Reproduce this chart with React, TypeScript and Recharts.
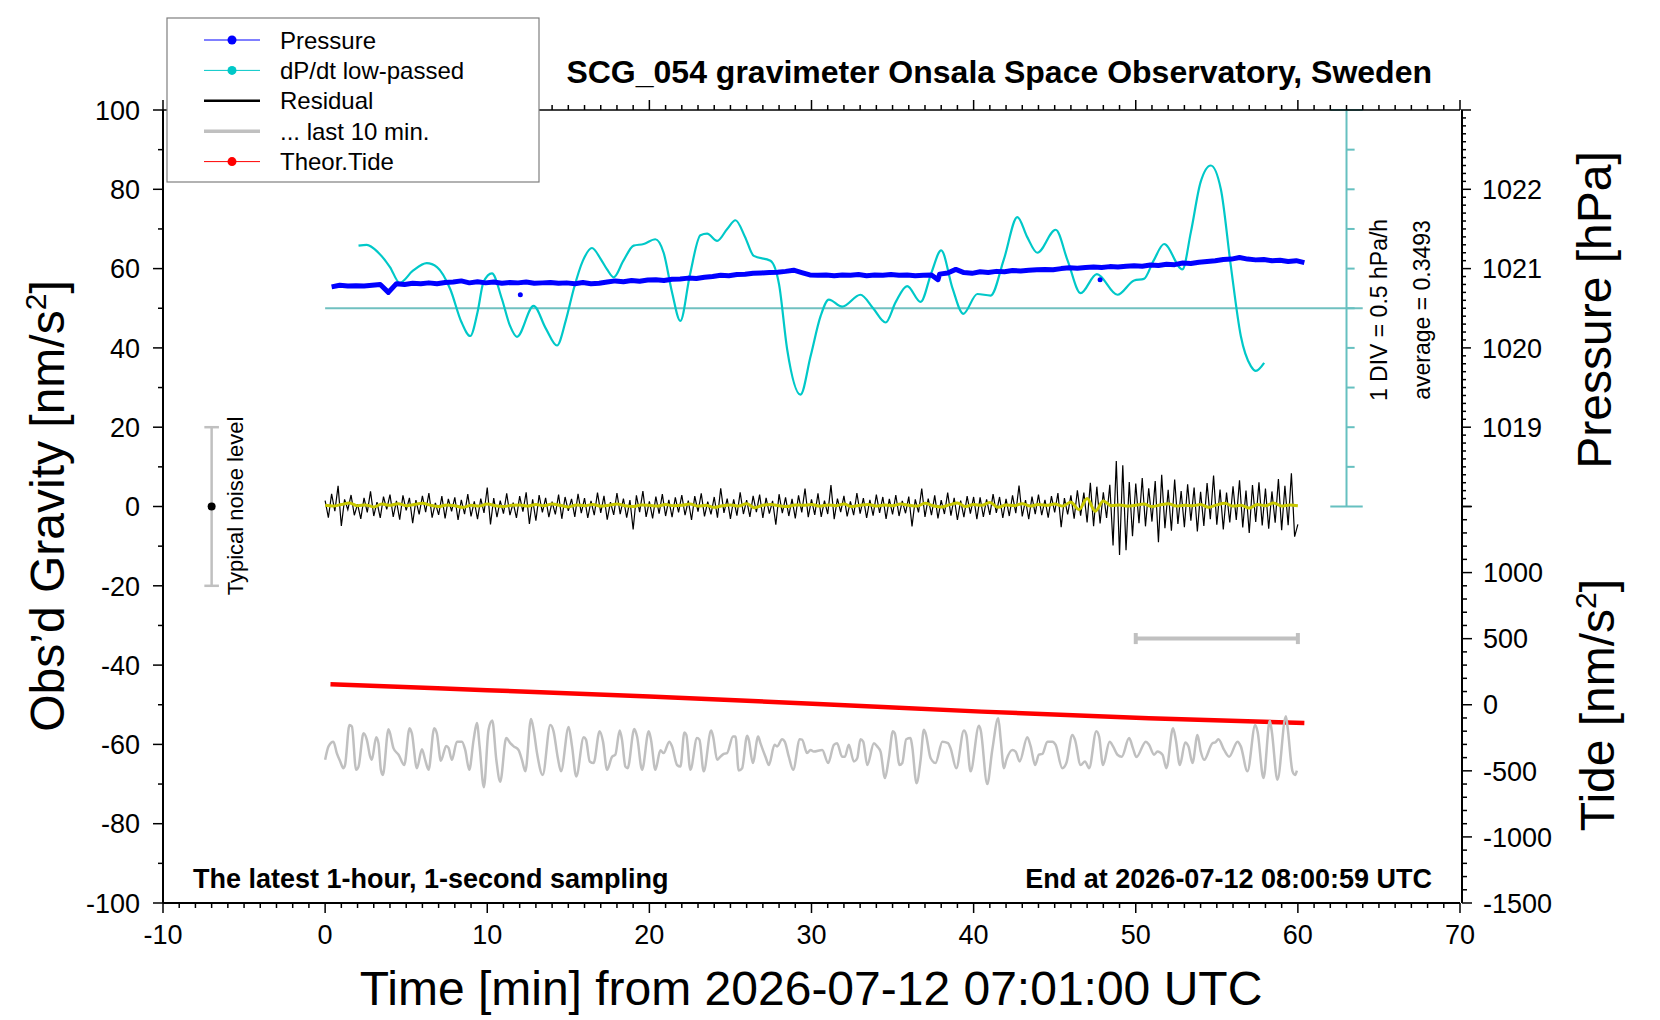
import React from "react";
import { ComposedChart, Line, XAxis, YAxis, ReferenceLine, ReferenceDot } from "recharts";

const FONT = '"Liberation Sans", Arial, Helvetica, sans-serif';
const W = 1660;
const H = 1020;

// ---- text
const STATION = "SCG_054 gravimeter Onsala Space Observatory, Sweden";
const START_UTC = "2026-07-12 07:01:00 UTC";
const END_UTC = "2026-07-12 08:00:59 UTC";
const SAMPLING_NOTE = "The latest 1-hour, 1-second sampling";

// ---- axes
const TIME_LABELS = [-10, 0, 10, 20, 30, 40, 50, 60, 70];
const GRAVITY_LABELS = [-100, -80, -60, -40, -20, 0, 20, 40, 60, 80, 100];
const PRESSURE_LABELS = [1019, 1020, 1021, 1022];
const TIDE_LABELS = [-1500, -1000, -500, 0, 500, 1000];
const PRESSURE_RANGE = [1018, 1023];
const TIDE_RANGE = [-1500, 1500];

// dP/dt scale: 1 division = 0.5 hPa/h
const DPDT_DIV = 0.5;
const DPDT_AVERAGE = 0.3493;

// ---- series
// pressure [min, hPa]
const PRESSURE: [number, number][] = [
  [0.4, 1020.77], [0.9, 1020.79], [1.4, 1020.78], [1.9, 1020.785], [2.4, 1020.78], [2.9, 1020.79], [3.4, 1020.8], [3.9, 1020.7], [4.4, 1020.81], [4.9, 1020.8],
  [5.4, 1020.815], [5.9, 1020.81], [6.4, 1020.82], [6.9, 1020.81], [7.4, 1020.825], [7.9, 1020.83], [8.4, 1020.845], [8.9, 1020.82], [9.4, 1020.835], [9.9, 1020.82],
  [10.4, 1020.83], [10.9, 1020.815], [11.4, 1020.825], [11.9, 1020.82], [12.4, 1020.83], [12.9, 1020.815], [13.4, 1020.82], [13.9, 1020.825], [14.4, 1020.815], [14.9, 1020.82],
  [15.4, 1020.81], [15.9, 1020.825], [16.4, 1020.81], [16.9, 1020.815], [17.4, 1020.83], [17.9, 1020.845], [18.4, 1020.835], [18.9, 1020.85], [19.4, 1020.84], [19.9, 1020.855],
  [20.4, 1020.86], [20.9, 1020.85], [21.4, 1020.865], [21.9, 1020.87], [22.4, 1020.88], [22.9, 1020.875], [23.4, 1020.89], [23.9, 1020.9], [24.4, 1020.915], [24.9, 1020.91],
  [25.4, 1020.925], [25.9, 1020.93], [26.4, 1020.94], [26.9, 1020.945], [27.4, 1020.95], [27.9, 1020.955], [28.4, 1020.965], [28.9, 1020.98], [29.4, 1020.95], [29.9, 1020.92],
  [30.4, 1020.915], [30.9, 1020.92], [31.4, 1020.91], [31.9, 1020.92], [32.4, 1020.915], [32.9, 1020.925], [33.4, 1020.91], [33.9, 1020.92], [34.4, 1020.915], [34.9, 1020.925],
  [35.4, 1020.915], [35.9, 1020.92], [36.4, 1020.91], [36.9, 1020.915], [37.4, 1020.92], [37.8, 1020.86], [37.9, 1020.93], [38.4, 1020.945], [38.9, 1020.99], [39.4, 1020.95], [39.9, 1020.94],
  [40.4, 1020.96], [40.9, 1020.95], [41.4, 1020.965], [41.9, 1020.96], [42.4, 1020.975], [42.9, 1020.97], [43.4, 1020.98], [43.9, 1020.985], [44.4, 1020.99], [44.9, 1020.985],
  [45.4, 1021.0], [45.9, 1021.01], [46.4, 1021.005], [46.9, 1021.015], [47.4, 1021.02], [47.9, 1021.015], [48.4, 1021.025], [48.9, 1021.02], [49.4, 1021.03], [49.9, 1021.035],
  [50.4, 1021.03], [50.9, 1021.045], [51.4, 1021.04], [51.9, 1021.055], [52.4, 1021.05], [52.9, 1021.07], [53.4, 1021.065], [53.9, 1021.08], [54.4, 1021.09], [54.9, 1021.1],
  [55.4, 1021.115], [55.9, 1021.12], [56.4, 1021.14], [56.9, 1021.12], [57.4, 1021.11], [57.9, 1021.115], [58.4, 1021.1], [58.9, 1021.105], [59.4, 1021.09], [59.9, 1021.1],
  [60.4, 1021.075],
];
const PRESSURE_SPIKES: [number, number][] = [[12.04, 1020.67], [47.8, 1020.86]];

// low-passed dP/dt [min, hPa/h]
const DPDT: [number, number][] = [
  [2.06, 0.79], [2.57, 0.8], [3.29, 0.7], [4.0, 0.52], [4.6, 0.32], [5.4, 0.47], [6.27, 0.57], [6.9, 0.52], [7.72, 0.24], [8.4, -0.17],
  [8.95, -0.35], [9.4, -0.05], [9.77, 0.33], [10.29, 0.44], [10.9, 0.12], [11.4, -0.22], [11.83, -0.36], [12.86, 0.03], [13.6, -0.25], [14.3, -0.47],
  [14.85, -0.15], [15.33, 0.24], [15.9, 0.6], [16.46, 0.76], [17.0, 0.62], [17.39, 0.49], [17.8, 0.39], [18.4, 0.6], [19.03, 0.79], [19.65, 0.81],
  [20.37, 0.87], [20.88, 0.7], [21.4, 0.2], [21.91, -0.16], [22.5, 0.42], [23.15, 0.92], [23.56, 0.94], [24.18, 0.85], [24.8, 1.0], [25.31, 1.11],
  [25.9, 0.9], [26.44, 0.66], [27.47, 0.6], [28.0, 0.3], [28.5, -0.52], [29.32, -1.09], [29.95, -0.6], [30.56, -0.1], [31.07, 0.11], [31.89, 0.02],
  [33.02, 0.17], [33.8, 0.0], [34.57, -0.18], [35.2, 0.08], [35.9, 0.28], [36.73, 0.08], [37.4, 0.45], [38.0, 0.73], [38.7, 0.25], [39.36, -0.07],
  [40.23, 0.18], [41.05, 0.16], [41.87, 0.62], [42.7, 1.15], [43.3, 0.9], [43.93, 0.7], [45.06, 0.99], [45.8, 0.6], [46.6, 0.19], [47.6, 0.43],
  [48.87, 0.17], [49.9, 0.35], [50.5, 0.37], [51.1, 0.6], [51.75, 0.81], [52.88, 0.49], [53.4, 0.96], [54.0, 1.59], [54.63, 1.8], [55.25, 1.5],
  [55.86, 0.54], [56.48, -0.35], [57.1, -0.73], [57.41, -0.79], [57.92, -0.69],
];

// residual [nm/s2], one value every 0.2 min from t = 0
const RESIDUAL_STEP = 0.2;
const RESIDUAL = [
  1.5, -2.8, 3.2, -1.2, 5.2, -4.9, 1.8, -0.8, 2.9, -2.2,
  0.6, -3.1, 2.2, -1.5, 3.8, -2.4, 1.1, -2.9, 2.5, -0.7,
  3.0, -2.6, 1.4, -3.3, 2.8, -1.0, 2.2, -4.2, 1.6, -2.0,
  2.7, -1.4, 3.4, -2.8, 0.9, -2.1, 2.6, -3.0, 1.9, -1.2,
  2.3, -3.4, 1.7, -1.9, 3.1, -2.5, 1.3, -3.2, 2.0, -1.6,
  4.8, -4.5, 2.1, -2.7, 1.5, -1.8, 3.3, -2.2, 1.0, -2.9,
  2.6, -1.3, 3.6, -4.4, 1.8, -3.6, 2.9, -1.5, 2.2, -2.7,
  1.2, -2.0, 3.0, -3.1, 2.4, -1.1, 1.9, -2.6, 3.2, -1.7,
  2.1, -2.9, 1.4, -2.2, 3.5, -1.6, 2.7, -3.3, 1.1, -2.1,
  3.4, -1.9, 2.0, -2.8, 1.6, -5.8, 2.8, -1.4, 3.9, -2.6,
  1.3, -3.0, 2.5, -1.8, 3.1, -2.4, 1.7, -2.7, 2.3, -1.5,
  2.9, -2.2, 1.5, -3.4, 2.6, -1.3, 3.3, -2.5, 1.2, -2.0,
  2.4, -2.8, 4.6, -1.6, 2.0, -3.1, 1.8, -2.3, 3.6, -1.9,
  1.6, -2.6, 2.7, -1.4, 3.0, -2.9, 2.2, -1.8, 1.4, -4.6,
  3.1, -1.7, 2.3, -2.4, 1.9, -3.0, 2.8, -1.5, 4.5, -2.7,
  1.8, -2.1, 3.3, -2.6, 1.5, -1.9, 5.4, -3.2, 2.0, -1.4,
  2.7, -2.5, 1.3, -2.2, 3.4, -1.8, 2.1, -2.9, 1.7, -2.3,
  3.0, -1.6, 2.4, -3.1, 1.9, -2.0, 2.9, -2.4, 1.4, -1.7,
  2.5, -5.0, 1.8, -1.5, 4.5, -2.6, 2.0, -2.2, 2.8, -3.0,
  1.6, -1.9, 3.5, -2.3, 2.2, -3.4, 1.5, -2.7, 2.6, -1.8,
  2.4, -3.2, 2.3, -2.6, 1.8, -2.1, 3.1, -1.6, 2.4, -2.9,
  1.9, -2.4, 2.8, -1.7, 5.3, -2.5, 1.6, -3.2, 2.5, -1.9,
  3.0, -2.2, 1.7, -2.8, 2.6, -1.5, 3.4, -5.2, 2.1, -2.0,
  2.8, -3.1, 4.1, -2.3, 3.5, -4.0, 6.0, -5.0, 5.0, -4.3,
  3.6, -2.9, 5.5, -9.8, 11.5, -12.2, 10.4, -11.0, 6.2, -7.5,
  5.8, -4.2, 7.2, -5.0, 4.6, -3.8, 6.4, -9.0, 8.0, -5.5,
  4.2, -6.1, 6.8, -4.4, 3.9, -5.2, 5.6, -3.6, 4.8, -6.3,
  3.7, -4.9, 5.9, -3.2, 7.8, -4.6, 4.3, -5.8, 3.5, -4.0,
  5.1, -3.4, 6.6, -5.3, 4.0, -6.7, 5.4, -3.9, 6.1, -4.8,
  4.5, -5.6, 3.8, -4.1, 6.9, -6.0, 5.2, -4.7, 8.4, -7.6,
  -4.5,
];

// smoothed residual, one value every 0.5 min from t = 0
const SMOOTH_STEP = 0.5;
const RESIDUAL_SMOOTH = [
  0.3, 0.1, 0.5, 0.9, 0.2, 0.4, -0.1, 0.6, 0.3, 0.7, 0.2, 0.5, 0.8, 0.3, 0.0, 0.4, 0.2, -0.2, 0.3, 0.1,
  0.6, 0.2, 0.0, 0.3, 0.4, 0.1, 0.5, 0.2, 0.6, 0.3, -0.1, 0.4, 0.2, 0.5, 0.1, 0.3, 0.6, 0.2, 0.0, 0.4,
  0.3, 0.1, 0.5, 0.2, 0.3, 0.6, 0.1, 0.3, -0.2, 0.2, 0.4, 0.1, 0.7, -0.3, 0.3, 0.5, 0.2, 0.0, 0.4, 0.3,
  0.5, 0.1, 0.4, 0.2, 0.6, 0.0, 0.3, 0.5, 0.1, 0.4, 0.2, 0.6, 0.3, 0.1, 0.8, 0.2, -0.1, 0.4, 0.9, 0.0,
  0.5, 0.3, 1.0, -0.2, 0.4, 0.2, 0.7, 0.1, 0.5, 0.3, 0.6, 0.1, 1.1, -0.8, 2.0, -1.2, 1.4, 0.2, 0.4, 0.1,
  0.3, 0.6, 0.0, 0.4, 0.7, 0.1, 0.3, 0.2, 0.5, -0.2, 0.4, 0.8, 0.1, 0.3, -0.4, 0.5, 0.2, 0.9, 0.1, 0.4,
  0.2,
];

// last 10 min of residual, stretched over the hour [min, nm/s2]
const LAST10: [number, number][] = [
  [0.0, -63.9], [0.21, -60.5], [0.51, -59.3], [0.72, -62.2], [0.93, -64.3], [1.13, -66.0], [1.23, -65.2], [1.5, -55.1], [1.65, -55.5], [1.91, -66.4],
  [2.06, -65.6], [2.37, -57.2], [2.57, -58.8], [2.78, -63.1], [2.88, -63.9], [3.15, -58.2], [3.29, -59.7], [3.44, -66.4], [3.56, -67.7], [3.91, -56.2],
  [4.22, -61.0], [4.53, -62.6], [4.88, -65.2], [5.21, -55.9], [5.35, -57.2], [5.66, -66.0], [5.97, -61.2], [6.17, -63.9], [6.38, -66.4], [6.73, -55.9],
  [6.89, -57.2], [7.14, -64.1], [7.47, -60.4], [7.61, -60.9], [7.82, -63.9], [8.13, -59.3], [8.44, -59.3], [8.64, -61.4], [8.89, -66.4], [9.16, -58.8],
  [9.36, -54.6], [9.53, -60.5], [9.79, -70.8], [10.08, -56.3], [10.31, -54.0], [10.56, -63.9], [10.8, -69.4], [11.17, -58.4], [11.42, -59.7], [11.63, -60.5],
  [11.93, -61.4], [12.14, -63.9], [12.35, -66.8], [12.7, -53.6], [12.86, -56.3], [13.07, -62.2], [13.42, -67.7], [13.89, -55.1], [14.09, -56.7], [14.34, -63.1],
  [14.55, -66.8], [15.02, -55.6], [15.23, -60.5], [15.49, -68.1], [15.95, -58.2], [16.09, -58.8], [16.32, -64.3], [16.56, -64.7], [16.93, -56.7], [17.14, -59.3],
  [17.39, -66.4], [17.7, -63.1], [17.9, -62.6], [18.17, -56.5], [18.31, -58.8], [18.52, -65.6], [18.66, -66.0], [19.07, -56.1], [19.24, -58.0], [19.55, -66.4],
  [19.96, -56.7], [20.1, -58.8], [20.37, -66.4], [20.68, -61.5], [20.88, -62.2], [21.23, -59.3], [21.4, -60.5], [21.71, -65.2], [21.91, -65.6], [22.16, -57.0],
  [22.28, -57.6], [22.53, -66.4], [22.94, -58.4], [23.09, -58.8], [23.35, -66.8], [23.81, -56.5], [23.93, -58.0], [24.18, -63.9], [24.38, -63.1], [24.59, -62.4],
  [24.79, -62.2], [25.16, -58.0], [25.31, -58.0], [25.51, -66.6], [25.72, -66.0], [26.03, -57.8], [26.13, -58.8], [26.38, -64.7], [26.71, -58.0], [26.85, -59.7],
  [27.16, -63.1], [27.37, -65.2], [27.72, -60.1], [27.88, -60.5], [28.19, -58.7], [28.35, -59.3], [28.6, -63.1], [28.87, -66.4], [29.28, -58.7], [29.42, -58.8],
  [29.73, -62.2], [29.94, -61.4], [30.14, -61.8], [30.66, -61.4], [31.03, -64.7], [31.38, -60.1], [31.58, -59.7], [31.89, -63.1], [32.06, -63.1], [32.3, -60.1],
  [32.61, -64.3], [32.82, -63.5], [33.02, -58.7], [33.19, -59.3], [33.44, -65.2], [33.85, -59.7], [34.05, -60.5], [34.26, -61.8], [34.53, -68.5], [34.77, -63.5],
  [35.02, -56.7], [35.14, -57.2], [35.43, -65.2], [35.6, -64.7], [35.84, -58.7], [36.11, -58.4], [36.21, -60.5], [36.48, -69.8], [36.73, -63.9], [36.93, -56.3],
  [37.04, -57.2], [37.35, -63.5], [37.65, -64.7], [38.07, -59.3], [38.42, -59.7], [38.58, -61.0], [38.93, -66.0], [39.4, -56.5], [39.55, -57.6], [39.81, -66.8],
  [40.33, -55.3], [40.43, -56.3], [40.84, -70.0], [41.15, -61.4], [41.52, -53.4], [41.67, -58.8], [41.87, -66.0], [42.02, -63.9], [42.39, -61.4], [42.59, -61.8],
  [42.84, -64.3], [43.31, -58.2], [43.52, -60.5], [43.79, -65.2], [44.03, -62.6], [44.24, -62.4], [44.55, -59.3], [44.86, -59.3], [45.06, -60.1], [45.47, -66.0],
  [45.72, -64.7], [46.09, -57.6], [46.25, -58.8], [46.6, -65.2], [46.87, -64.3], [47.12, -66.0], [47.57, -56.7], [47.74, -58.0], [47.98, -65.2], [48.39, -59.3],
  [48.6, -60.5], [48.87, -62.6], [49.14, -63.1], [49.59, -58.4], [49.83, -61.0], [50.04, -63.2], [50.62, -59.3], [50.82, -60.1], [51.13, -62.6], [51.34, -61.8],
  [51.65, -62.6], [51.89, -66.0], [52.3, -55.9], [52.47, -58.8], [52.72, -65.2], [53.05, -59.5], [53.25, -60.5], [53.5, -64.7], [53.81, -57.6], [54.01, -61.8],
  [54.22, -63.9], [54.73, -59.7], [54.9, -59.5], [55.1, -58.7], [55.45, -61.4], [55.76, -63.1], [56.28, -59.3], [56.48, -60.5], [56.89, -66.8], [57.37, -55.1],
  [57.51, -56.7], [57.88, -68.5], [58.27, -54.0], [58.39, -56.7], [58.74, -68.9], [59.26, -52.9], [59.36, -55.5], [59.67, -66.8], [59.83, -67.7], [59.94, -66.6],
];

// theoretical tide [min, nm/s2]
const TIDE: [number, number][] = [
  [0.33, 156], [10, 110], [20, 62], [30.4, 6], [40.5, -52], [50.8, -102], [60.4, -138],
];

// markers
const NOISE_LEVEL = 20; // +- nm/s2
const NOISE_MARK_TIME = -7;
const LAST10_WINDOW = [50, 60];
const LAST10_MARK_LEVEL = -33.3;

const LEGEND = [
  { label: "Pressure", color: "#0000ff", width: 1, dot: true },
  { label: "dP/dt low-passed", color: "#00c8c8", width: 1, dot: true },
  { label: "Residual", color: "#000000", width: 2.5, dot: false },
  { label: "... last 10 min.", color: "#c0c0c0", width: 3.5, dot: false },
  { label: "Theor.Tide", color: "#ff0000", width: 1, dot: true },
];

// ---- derived tables
const pts = (arr: [number, number][]) => arr.map(([t, v]) => ({ t, v }));
const pressureData = pts(PRESSURE);
const dpdtData = pts(DPDT);
const last10Data = pts(LAST10);
const tideData = pts(TIDE);
const residualData = RESIDUAL.map((v, i) => ({ t: +(i * RESIDUAL_STEP).toFixed(2), v }));
const smoothData = RESIDUAL_SMOOTH.map((v, i) => ({ t: i * SMOOTH_STEP, v }));

const range = (a: number, b: number, step: number) =>
  Array.from({ length: Math.round((b - a) / step) + 1 }, (_, i) => Math.round((a + i * step) * 1000) / 1000);

const timeTicks = range(-10, 70, 1);
const gravityTicks = range(-100, 100, 10);
const pressureTicks = range(PRESSURE_RANGE[0], PRESSURE_RANGE[1], 0.1);
const tideTicks = range(TIDE_RANGE[0], TIDE_RANGE[1], 100);
const dpdtTicks = range(-5 * DPDT_DIV, 5 * DPDT_DIV, DPDT_DIV);

const AXIS_LINE = { stroke: "#000", strokeWidth: 2 };
const TICK_TEXT = { fontFamily: FONT, fontSize: 27, fill: "#000" };
const isInt = (v: number) => Math.abs(v - Math.round(v)) < 1e-6;

function leftTick(p: any) {
  const v = p.payload.value;
  const major = v % 20 === 0;
  return (
    <g>
      <line x1={p.x} x2={p.x - (major ? 10 : 5)} y1={p.y} y2={p.y} stroke="#000" strokeWidth={1.5} />
      {GRAVITY_LABELS.includes(v) && (
        <text x={p.x - 23} y={p.y} dy="0.36em" textAnchor="end" {...TICK_TEXT}>{v}</text>
      )}
    </g>
  );
}

function bottomTick(p: any) {
  const v = p.payload.value;
  const major = v % 10 === 0;
  return (
    <g>
      <line x1={p.x} x2={p.x} y1={p.y} y2={p.y + (major ? 10 : 5)} stroke="#000" strokeWidth={1.5} />
      {TIME_LABELS.includes(v) && (
        <text x={p.x} y={p.y + 41} textAnchor="middle" {...TICK_TEXT}>{v}</text>
      )}
    </g>
  );
}

function topTick(p: any) {
  const v = p.payload.value;
  const major = v % 10 === 0;
  return <line x1={p.x} x2={p.x} y1={p.y} y2={p.y - (major ? 10 : 5)} stroke="#000" strokeWidth={1.5} />;
}

function rightTick(labels: number[], isMajor: (v: number) => boolean) {
  return (p: any) => {
    const v = p.payload.value;
    const major = isMajor(v);
    return (
      <g>
        <line x1={p.x} x2={p.x + (major ? 10 : 5)} y1={p.y} y2={p.y} stroke="#000" strokeWidth={1.5} />
        {labels.some((l) => Math.abs(l - v) < 1e-6) && (
          <text x={p.x + 21} y={p.y} dy="0.36em" textAnchor="start" {...TICK_TEXT}>{Math.round(v)}</text>
        )}
      </g>
    );
  };
}

const SCALE = "#66c0c0";

export default function App() {
  const [dLo, dHi] = [dpdtTicks[0], dpdtTicks[dpdtTicks.length - 1]];
  return (
    <div style={{ position: "absolute", left: 0, top: 0, width: W, height: H, background: "#fff" }}>
      <ComposedChart width={W} height={H} margin={{ top: 100, right: 198, bottom: 77, left: 83 }}>
        <XAxis xAxisId="b" type="number" dataKey="t" domain={[-10, 70]} ticks={timeTicks} interval={0}
          tickSize={0} tickMargin={0} height={40} axisLine={AXIS_LINE} tickLine={false} tick={bottomTick} allowDataOverflow />
        <XAxis xAxisId="top" orientation="top" type="number" dataKey="t" domain={[-10, 70]} ticks={timeTicks} interval={0}
          tickSize={0} tickMargin={0} height={10} axisLine={{ stroke: "#000", strokeWidth: 1.5 }} tickLine={false} tick={topTick} allowDataOverflow />
        <YAxis yAxisId="g" type="number" domain={[-100, 100]} ticks={gravityTicks} interval={0} width={80}
          tickSize={0} tickMargin={0} axisLine={AXIS_LINE} tickLine={false} tick={leftTick} allowDataOverflow />
        <YAxis yAxisId="tide" orientation="right" type="number" domain={[-1500, 4500]} ticks={tideTicks} interval={0} width={1}
          tickSize={0} tickMargin={0} axisLine={AXIS_LINE} tickLine={false} tick={rightTick(TIDE_LABELS, (v) => v % 500 === 0)} allowDataOverflow />
        <YAxis yAxisId="p" orientation="right" type="number" domain={[1013, 1023]} ticks={pressureTicks} interval={0} width={1}
          tickSize={0} tickMargin={0} axisLine={false} tickLine={false} tick={rightTick(PRESSURE_LABELS, isInt)} allowDataOverflow />
        <YAxis yAxisId="dpdt" hide orientation="right" width={1} type="number" domain={[-7.5, 2.5]} allowDataOverflow />

        {/* dP/dt scale bar */}
        <ReferenceLine xAxisId="b" yAxisId="dpdt" segment={[{ x: 0, y: 0 }, { x: 64, y: 0 }]} stroke="#70c0c0" strokeWidth={2} />
        <ReferenceLine xAxisId="b" yAxisId="dpdt" segment={[{ x: 63, y: dLo }, { x: 63, y: dHi }]} stroke={SCALE} strokeWidth={2} />
        {dpdtTicks.map((d, i) => (
          <ReferenceLine key={i} xAxisId="b" yAxisId="dpdt"
            segment={i === 0 || i === dpdtTicks.length - 1 ? [{ x: 62, y: d }, { x: 64, y: d }] : [{ x: 63, y: d }, { x: 63.5, y: d }]}
            stroke={SCALE} strokeWidth={2} />
        ))}

        <Line xAxisId="b" yAxisId="dpdt" data={dpdtData} dataKey="v" type="monotone" stroke="#00c8c8" strokeWidth={2.2} dot={false} isAnimationActive={false} />
        <Line xAxisId="b" yAxisId="p" data={pressureData} dataKey="v" type="linear" stroke="#0000ff" strokeWidth={5} strokeLinejoin="round" dot={false} isAnimationActive={false} />
        {PRESSURE_SPIKES.map(([t, v], i) => (
          <ReferenceDot key={i} xAxisId="b" yAxisId="p" x={t} y={v} r={2.5} fill="#0000ff" stroke="none" />
        ))}

        <Line xAxisId="b" yAxisId="g" data={residualData} dataKey="v" type="linear" stroke="#000" strokeWidth={1.2} dot={false} isAnimationActive={false} />
        <Line xAxisId="b" yAxisId="g" data={smoothData} dataKey="v" type="monotone" stroke="#c8c800" strokeWidth={3} dot={false} isAnimationActive={false} />
        <Line xAxisId="b" yAxisId="tide" data={tideData} dataKey="v" type="monotone" stroke="#ff0000" strokeWidth={4.5} dot={false} isAnimationActive={false} />
        <Line xAxisId="b" yAxisId="g" data={last10Data} dataKey="v" type="monotone" stroke="#c0c0c0" strokeWidth={2.5} dot={false} isAnimationActive={false} />

        {/* last 10 min window marker */}
        <ReferenceLine xAxisId="b" yAxisId="g" segment={[{ x: LAST10_WINDOW[0], y: LAST10_MARK_LEVEL }, { x: LAST10_WINDOW[1], y: LAST10_MARK_LEVEL }]} stroke="#c0c0c0" strokeWidth={4} />
        {LAST10_WINDOW.map((t) => (
          <ReferenceLine key={t} xAxisId="b" yAxisId="g" segment={[{ x: t, y: LAST10_MARK_LEVEL - 1.4 }, { x: t, y: LAST10_MARK_LEVEL + 1.4 }]} stroke="#c0c0c0" strokeWidth={4} />
        ))}

        {/* typical noise level */}
        <ReferenceLine xAxisId="b" yAxisId="g" segment={[{ x: NOISE_MARK_TIME, y: -NOISE_LEVEL }, { x: NOISE_MARK_TIME, y: NOISE_LEVEL }]} stroke="#c0c0c0" strokeWidth={2.5} />
        {[-NOISE_LEVEL, NOISE_LEVEL].map((y) => (
          <ReferenceLine key={y} xAxisId="b" yAxisId="g" segment={[{ x: NOISE_MARK_TIME - 0.45, y }, { x: NOISE_MARK_TIME + 0.45, y }]} stroke="#c0c0c0" strokeWidth={2.5} />
        ))}
        <ReferenceDot xAxisId="b" yAxisId="g" x={NOISE_MARK_TIME} y={0} r={4} fill="#000" stroke="none" />
      </ComposedChart>

      <svg width={W} height={H} style={{ position: "absolute", left: 0, top: 0, pointerEvents: "none" }} fontFamily={FONT}>
        <rect x={167} y={18} width={372} height={164} fill="#fff" stroke="#7f7f7f" strokeWidth={1.2} />
        {LEGEND.map((e, i) => {
          const y = 40 + i * 30.4;
          return (
            <g key={e.label}>
              <line x1={204} x2={260} y1={y} y2={y} stroke={e.color} strokeWidth={e.width} />
              {e.dot && <circle cx={232} cy={y} r={4.5} fill={e.color} />}
              <text x={280} y={y} dy="0.36em" fontSize={24} fill="#000">{e.label}</text>
            </g>
          );
        })}

        <text x={1432} y={83} textAnchor="end" fontSize={32} fontWeight="bold">{STATION}</text>
        <text x={193} y={888} fontSize={27} fontWeight="bold">{SAMPLING_NOTE}</text>
        <text x={1432} y={888} textAnchor="end" fontSize={27} fontWeight="bold">End at {END_UTC}</text>

        <text x={811} y={1005} textAnchor="middle" fontSize={48}>Time [min] from {START_UTC}</text>
        <text transform="translate(64,506) rotate(-90)" textAnchor="middle" fontSize={48}>
          Obs’d Gravity [nm/s<tspan dy={-18} fontSize={30}>2</tspan><tspan dy={18}>]</tspan>
        </text>
        <text transform="translate(1611,310) rotate(-90)" textAnchor="middle" fontSize={48}>Pressure [hPa]</text>
        <text transform="translate(1614,705) rotate(-90)" textAnchor="middle" fontSize={48}>
          Tide [nm/s<tspan dy={-18} fontSize={30}>2</tspan><tspan dy={18}>]</tspan>
        </text>

        <text transform="translate(1387,310) rotate(-90)" textAnchor="middle" fontSize={23}>1 DIV = {DPDT_DIV} hPa/h</text>
        <text transform="translate(1430,310) rotate(-90)" textAnchor="middle" fontSize={23}>average = {DPDT_AVERAGE}</text>
        <text transform="translate(243,506) rotate(-90)" textAnchor="middle" fontSize={22}>Typical noise level</text>
      </svg>
    </div>
  );
}
